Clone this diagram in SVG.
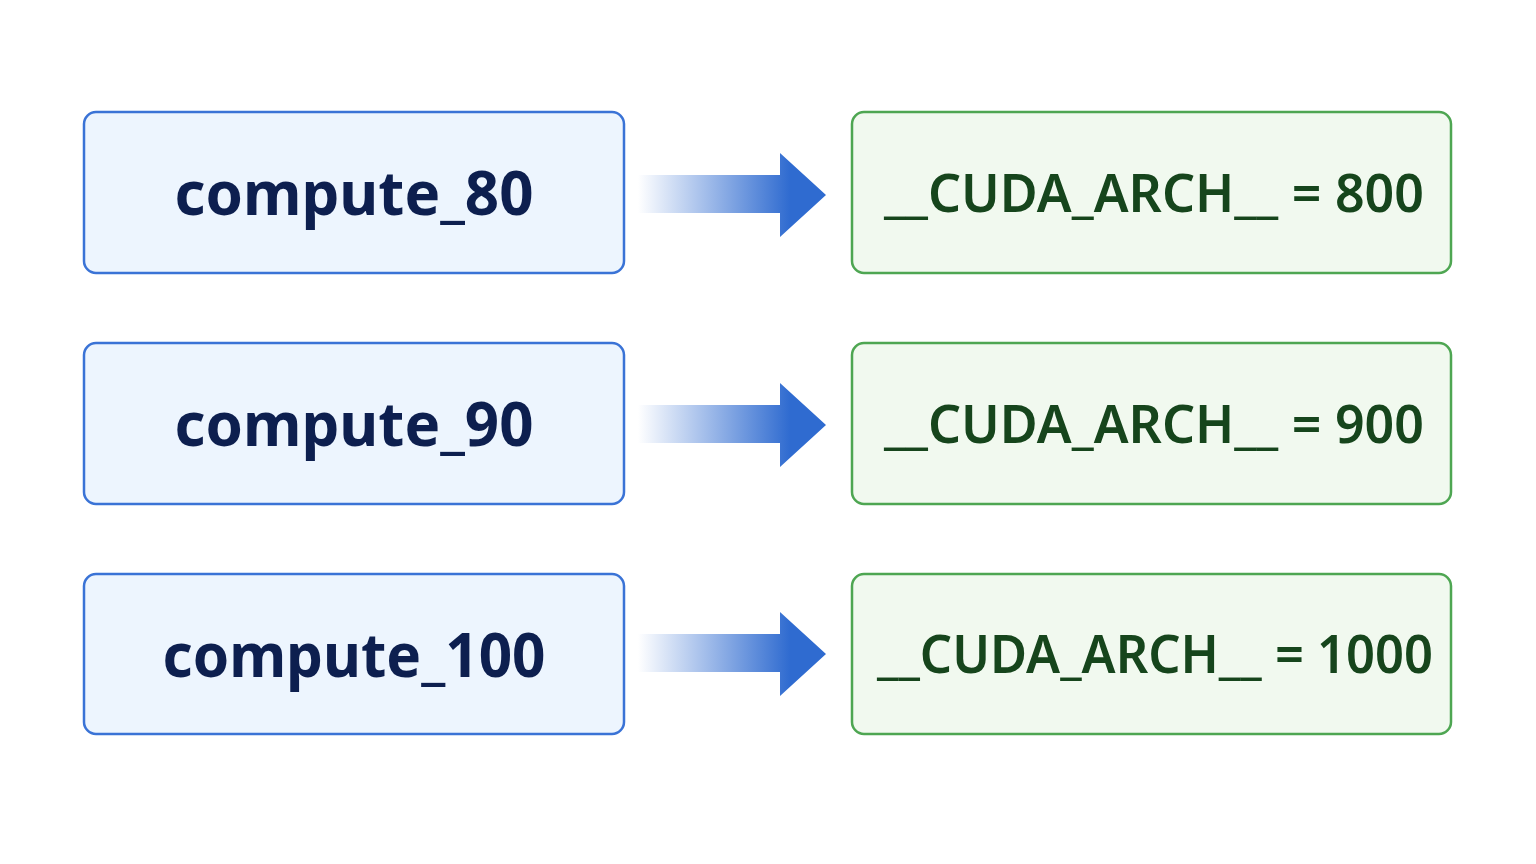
<svg xmlns="http://www.w3.org/2000/svg" width="1536" height="864" viewBox="0 0 1536 864">
<defs>
<linearGradient id="g" x1="638" y1="0" x2="790" y2="0" gradientUnits="userSpaceOnUse">
<stop offset="0" stop-color="#2f6bd0" stop-opacity="0"/>
<stop offset="1" stop-color="#2f6bd0"/>
</linearGradient>
<style>
.l{fill:#edf5fe;stroke:#3a73d6;stroke-width:2.5}
.r{fill:#f1f9ef;stroke:#4ea652;stroke-width:2.5}
.lt{font-family:"Noto Sans",sans-serif;font-weight:700;font-size:61px;fill:#0d1f4f;text-anchor:middle}
.rt{font-family:"Noto Sans",sans-serif;font-weight:600;font-size:52px;fill:#16451c;text-anchor:middle}
</style>
</defs>
<rect width="1536" height="864" fill="#fff"/>
<g id="n1"><rect class="l" x="84" y="112" width="540" height="161" rx="12"/><text class="lt" x="354" y="215" textLength="359" lengthAdjust="spacingAndGlyphs">compute_80</text></g>
<g id="n2"><rect class="l" x="84" y="343" width="540" height="161" rx="12"/><text class="lt" x="354" y="446" textLength="359" lengthAdjust="spacingAndGlyphs">compute_90</text></g>
<g id="n3"><rect class="l" x="84" y="574" width="540" height="160" rx="12"/><text class="lt" x="354" y="677" textLength="383" lengthAdjust="spacingAndGlyphs">compute_100</text></g>
<g id="m1"><rect class="r" x="852" y="112" width="599" height="161" rx="12"/><text class="rt" x="1154" y="212" textLength="540" lengthAdjust="spacingAndGlyphs">__CUDA_ARCH__ = 800</text></g>
<g id="m2"><rect class="r" x="852" y="343" width="599" height="161" rx="12"/><text class="rt" x="1154" y="443" textLength="540" lengthAdjust="spacingAndGlyphs">__CUDA_ARCH__ = 900</text></g>
<g id="m3"><rect class="r" x="852" y="574" width="599" height="160" rx="12"/><text class="rt" x="1155" y="673" textLength="556" lengthAdjust="spacingAndGlyphs">__CUDA_ARCH__ = 1000</text></g>
<g id="connectors" fill="url(#g)">
<path d="M638 175H780V153L826 195L780 237V213H638Z"/>
<path d="M638 405H780V383L826 425L780 467V443H638Z"/>
<path d="M638 634H780V612L826 654L780 696V672H638Z"/>
</g>
</svg>
